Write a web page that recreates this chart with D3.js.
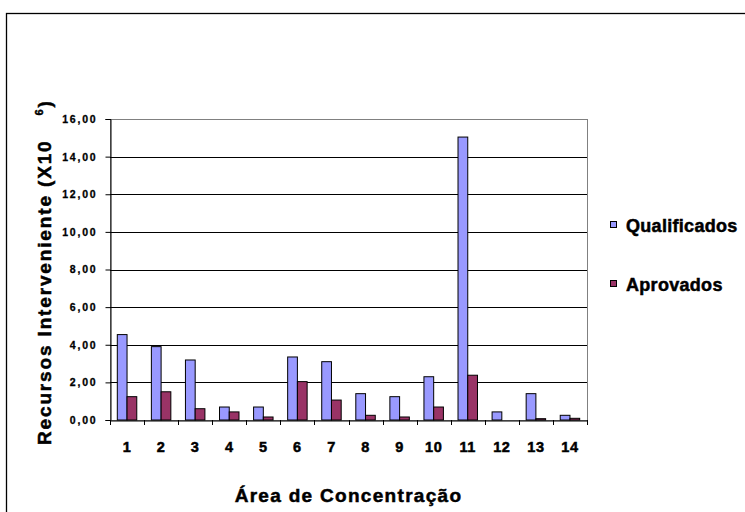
<!DOCTYPE html>
<html>
<head>
<meta charset="utf-8">
<script src="https://cdn.jsdelivr.net/npm/d3@7"></script>
<style>
  html, body { margin: 0; padding: 0; background: #fff; }
  svg { display: block; }
  text { font-family: "Liberation Sans", Arial, sans-serif; font-weight: bold; fill: #000; }
  .heavy { stroke: #000; stroke-width: 0.5px; }
</style>
</head>
<body>
<svg id="chart" width="745" height="512"></svg>
<script>
// Área de concentração 1..14
const categories = ["1", "2", "3", "4", "5", "6", "7", "8", "9", "10", "11", "12", "13", "14"];
const seriesNames = ["Qualificados", "Aprovados"];
// Recursos interveniente, em milhões
const qualificados = [4.54, 3.90, 3.19, 0.69, 0.69, 3.35, 3.10, 1.40, 1.24, 2.30, 15.04, 0.43, 1.40, 0.25];
const aprovados    = [1.24, 1.50, 0.60, 0.43, 0.16, 2.04, 1.06, 0.25, 0.16, 0.69, 2.38, 0.00, 0.07, 0.09];
const yTicks = [0, 2, 4, 6, 8, 10, 12, 14, 16];
const colors = ["#9999ff", "#993366"];

const svg = d3.select("#chart");
const plot = { left: 110, right: 587, top: 119, bottom: 420 };

// Outer frame
svg.append("rect")
  .attr("x", 6.5).attr("y", 13.5)
  .attr("width", 760).attr("height", 520)
  .attr("fill", "none").attr("stroke", "#000").attr("stroke-width", 1.3);

const x = d3.scaleBand().domain(categories).range([plot.left, plot.right]).padding(0);
const xs = d3.scaleBand().domain(seriesNames).range([0, x.bandwidth()])
  .paddingInner(0).paddingOuter(0.75);
const y = d3.scaleLinear().domain([0, 16]).range([plot.bottom, plot.top]);

const ptBR = d3.formatLocale({ decimal: ",", thousands: ".", grouping: [3], currency: ["R$", ""] });
const fmt = ptBR.format(".2f");

// Plot area border (grey)
svg.append("rect")
  .attr("x", plot.left + 0.5).attr("y", plot.top + 0.5)
  .attr("width", plot.right - plot.left).attr("height", plot.bottom - plot.top)
  .attr("fill", "none").attr("stroke", "#808080").attr("stroke-width", 1);

// Gridlines
svg.append("g").selectAll("line")
  .data(yTicks.filter(t => t > 0 && t < 16))
  .join("line")
  .attr("x1", plot.left).attr("x2", plot.right)
  .attr("y1", d => Math.round(y(d)) + 0.5).attr("y2", d => Math.round(y(d)) + 0.5)
  .attr("stroke", "#000").attr("stroke-width", 1);

// Bars
const rows = categories.map((c, i) => ({ cat: c, values: [qualificados[i], aprovados[i]] }));
const groups = svg.append("g").selectAll("g")
  .data(rows).join("g")
  .attr("transform", d => `translate(${x(d.cat)},0)`);
groups.selectAll("rect")
  .data(d => d.values.map((v, k) => ({ name: seriesNames[k], v, k })))
  .join("rect")
  .attr("x", d => xs(d.name))
  .attr("y", d => y(d.v))
  .attr("width", xs.bandwidth())
  .attr("height", d => y(0) - y(d.v))
  .attr("fill", d => colors[d.k])
  .attr("stroke", "#000")
  .attr("stroke-width", 1)
  .attr("display", d => d.v > 0 ? null : "none");

// Y axis
const yAxis = svg.append("g")
  .attr("transform", `translate(${plot.left + 0.5},0)`)
  .call(d3.axisLeft(y).tickValues(yTicks).tickSize(5).tickPadding(8).tickFormat(fmt));
yAxis.select(".domain").attr("stroke", "#000");
yAxis.selectAll(".tick line").attr("stroke", "#000");
yAxis.selectAll(".tick text")
  .attr("class", "heavy")
  .attr("font-family", "Liberation Sans, Arial, sans-serif")
  .attr("font-weight", "bold")
  .attr("font-size", 10.5)
  .attr("letter-spacing", "1.8px")
  .attr("fill", "#000")
  .style("stroke-width", "0.3px");

// X axis
const xAxis = svg.append("g")
  .attr("transform", `translate(0,${plot.bottom + 0.5})`)
  .call(d3.axisBottom(x).tickSize(0).tickPadding(0));
xAxis.select(".domain").attr("stroke", "#000");
xAxis.selectAll(".tick text")
  .attr("class", "heavy")
  .attr("y", 0).attr("dy", null)
  .attr("transform", "translate(0,31)")
  .attr("font-family", "Liberation Sans, Arial, sans-serif")
  .attr("font-weight", "bold")
  .attr("font-size", 14.5)
  .attr("letter-spacing", "0.6px")
  .attr("fill", "#000");
// Category separators
svg.append("g").selectAll("line")
  .data(categories.concat(["end"]))
  .join("line")
  .attr("x1", (d, i) => Math.round(plot.left + i * x.step()) + 0.5)
  .attr("x2", (d, i) => Math.round(plot.left + i * x.step()) + 0.5)
  .attr("y1", plot.bottom).attr("y2", plot.bottom + 5)
  .attr("stroke", "#000");

// Axis titles
svg.append("text")
  .attr("class", "heavy")
  .attr("x", (plot.left + plot.right) / 2).attr("y", 502)
  .attr("text-anchor", "middle")
  .attr("font-size", 19)
  .attr("letter-spacing", "1.3px")
  .text("Área de Concentração");

const yt = svg.append("text")
  .attr("class", "heavy")
  .attr("transform", "translate(51,445) rotate(-90)")
  .attr("font-size", 19)
  .attr("letter-spacing", "1.85px");
yt.append("tspan").text("Recursos Interveniente (X10");
yt.append("tspan").attr("dx", 24).attr("dy", -8).attr("font-size", 11).text("6");
yt.append("tspan").attr("dy", 8).text(")");

// Legend
const legend = svg.append("g").selectAll("g")
  .data(seriesNames).join("g")
  .attr("transform", (d, i) => `translate(610,${221 + i * 59})`);
legend.append("rect")
  .attr("x", 0.5).attr("y", 0.5).attr("width", 6).attr("height", 6)
  .attr("fill", (d, i) => colors[i]).attr("stroke", "#000").attr("stroke-width", 1);
legend.append("text")
  .attr("class", "heavy")
  .attr("x", 16).attr("y", 11)
  .attr("font-size", 18)
  .attr("letter-spacing", "0.3px")
  .text(d => d);
</script>
</body>
</html>
